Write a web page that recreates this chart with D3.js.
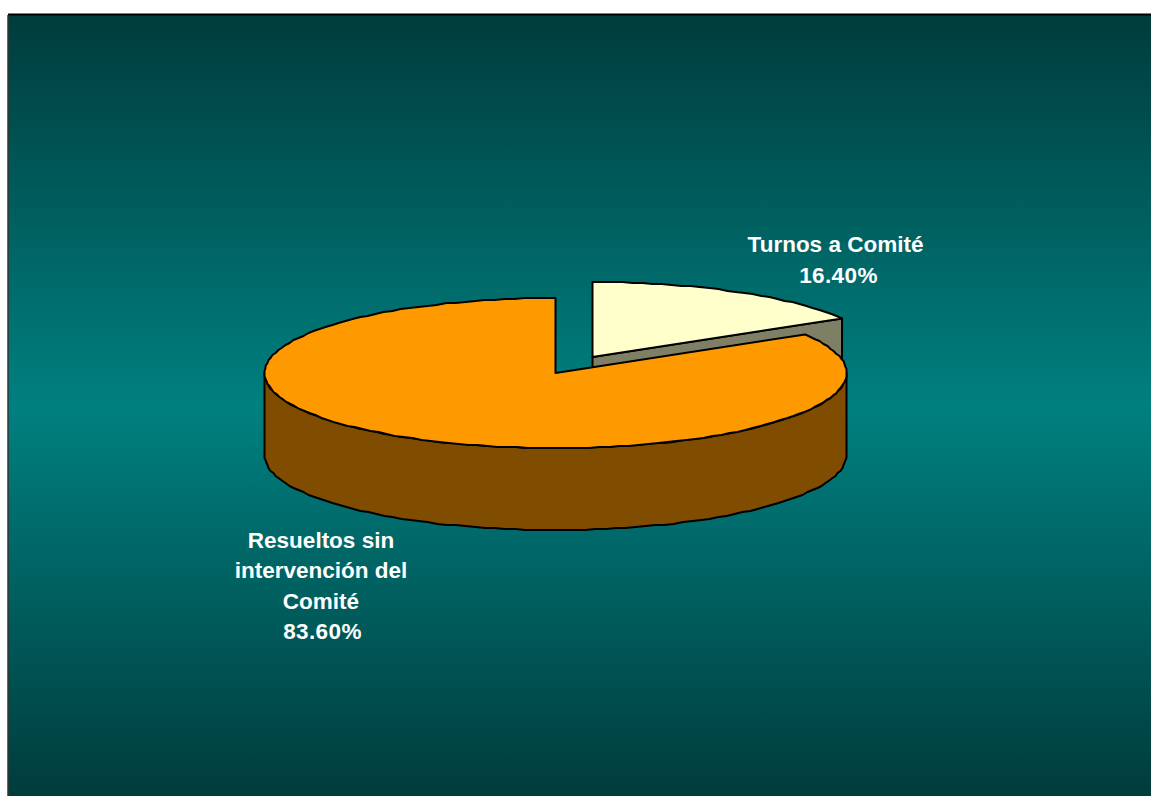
<!DOCTYPE html>
<html><head><meta charset="utf-8">
<script src="https://cdn.jsdelivr.net/npm/d3@7"></script>
<style>html,body{margin:0;padding:0;background:#fff;overflow:hidden}svg{display:block}</style>
</head><body><svg id="c" width="1151" height="796"></svg>
<script>
const categories = ["Turnos a Comité", "Resueltos sin intervención del Comité"];
const values = [16.4, 83.6];
const labelLines = [["Turnos a Comité"], ["Resueltos sin", "intervención del", "Comité"]];
const topColors = ["#FFFFCC", "#FF9900"];
const sideColors = ["#7F7F66", "#7F4C00"];
const svg = d3.select("#c");
const W = 1151, H = 796;
const panel = {x: 8, y: 15};
const cx = 555.5, cy = 373, rx = 291, ry = 75, depth = 82;
const explode = [{dx: 37, dy: -16}, {dx: 0, dy: 0}];
const labelPos = [{x: 835.5, y: 251.5, pctX: 838.5, pctDy: 31}, {x: 321, y: 548, pctX: 322.5, pctDy: 30.5}];

const grad = svg.append("defs").append("linearGradient").attr("id", "bg").attr("x1", 0).attr("x2", 0).attr("y1", 0).attr("y2", 1);
grad.append("stop").attr("offset", "0%").attr("stop-color", "#003C3C");
grad.append("stop").attr("offset", "50%").attr("stop-color", "#008080");
grad.append("stop").attr("offset", "100%").attr("stop-color", "#003C3C");

svg.append("rect").attr("x", panel.x).attr("y", panel.y).attr("width", W - panel.x).attr("height", H - panel.y).attr("fill", "url(#bg)");
svg.append("line").attr("x1", panel.x).attr("x2", W).attr("y1", panel.y - 0.5).attr("y2", panel.y - 0.5).attr("stroke", "#000").attr("stroke-width", 2);
svg.append("line").attr("x1", panel.x).attr("x2", panel.x).attr("y1", panel.y).attr("y2", H).attr("stroke", "#333").attr("stroke-width", 1.5);

const arcs = d3.pie().sort(null).value(d => d).startAngle(0).endAngle(2 * Math.PI)(values);
const px = a => rx * Math.sin(a), py = a => -ry * Math.cos(a);
const line = d3.line();
// fine facets snapped to whole pixels, like the slightly stepped outline of the original
const step = Math.PI / 90;
const rim = (a0, a1, off = 0) => {
  const n = Math.max(1, Math.round((a1 - a0) / step));
  return d3.range(0, n + 1).map(i => {
    const a = a0 + (a1 - a0) * i / n;
    const ends = i === 0 || i === n;
    return [ends ? px(a) : Math.round(px(a)), (ends ? py(a) : Math.round(py(a))) + off];
  });
};

const style = (s, fill) => s.attr("fill", fill).attr("stroke", "#000").attr("stroke-width", 2).attr("stroke-linejoin", "round");

[0, 1].forEach(i => {
  const d = arcs[i];
  const g = svg.append("g").attr("transform", `translate(${cx + explode[i].dx},${cy + explode[i].dy})`);
  const frontA0 = Math.max(d.startAngle, Math.PI / 2), frontA1 = Math.min(d.endAngle, 3 * Math.PI / 2);
  if (i === 0) {
    const e = [px(d.endAngle), py(d.endAngle)];
    g.append("path").attr("d", line([[0, 0], e, [e[0], e[1] + depth], [0, depth]]) + "Z").call(style, sideColors[i]);
  }
  if (frontA1 > frontA0) {
    const top = rim(frontA0, frontA1), bot = rim(frontA0, frontA1, depth).reverse();
    g.append("path").attr("d", line(top.concat(bot)) + "Z").call(style, sideColors[i]);
  }
  g.append("path").attr("d", line([[0, 0], ...rim(d.startAngle, d.endAngle)]) + "Z").call(style, topColors[i]);
});

const fmt = d3.format(".2f");
categories.forEach((c, i) => {
  const lp = labelPos[i];
  const t = svg.append("text").attr("text-anchor", "middle").attr("fill", "#fff")
    .attr("font-family", "'Liberation Sans', Arial, sans-serif").attr("font-weight", "bold").attr("font-size", 22.5);
  labelLines[i].forEach((l, j) => t.append("tspan").attr("x", lp.x).attr("y", lp.y + j * 30.3).text(l));
  t.append("tspan").attr("x", lp.pctX).attr("y", lp.y + (labelLines[i].length - 1) * 30.3 + lp.pctDy)
    .attr("letter-spacing", 0.4).text(fmt(values[i]) + "%");
});
</script></body></html>
